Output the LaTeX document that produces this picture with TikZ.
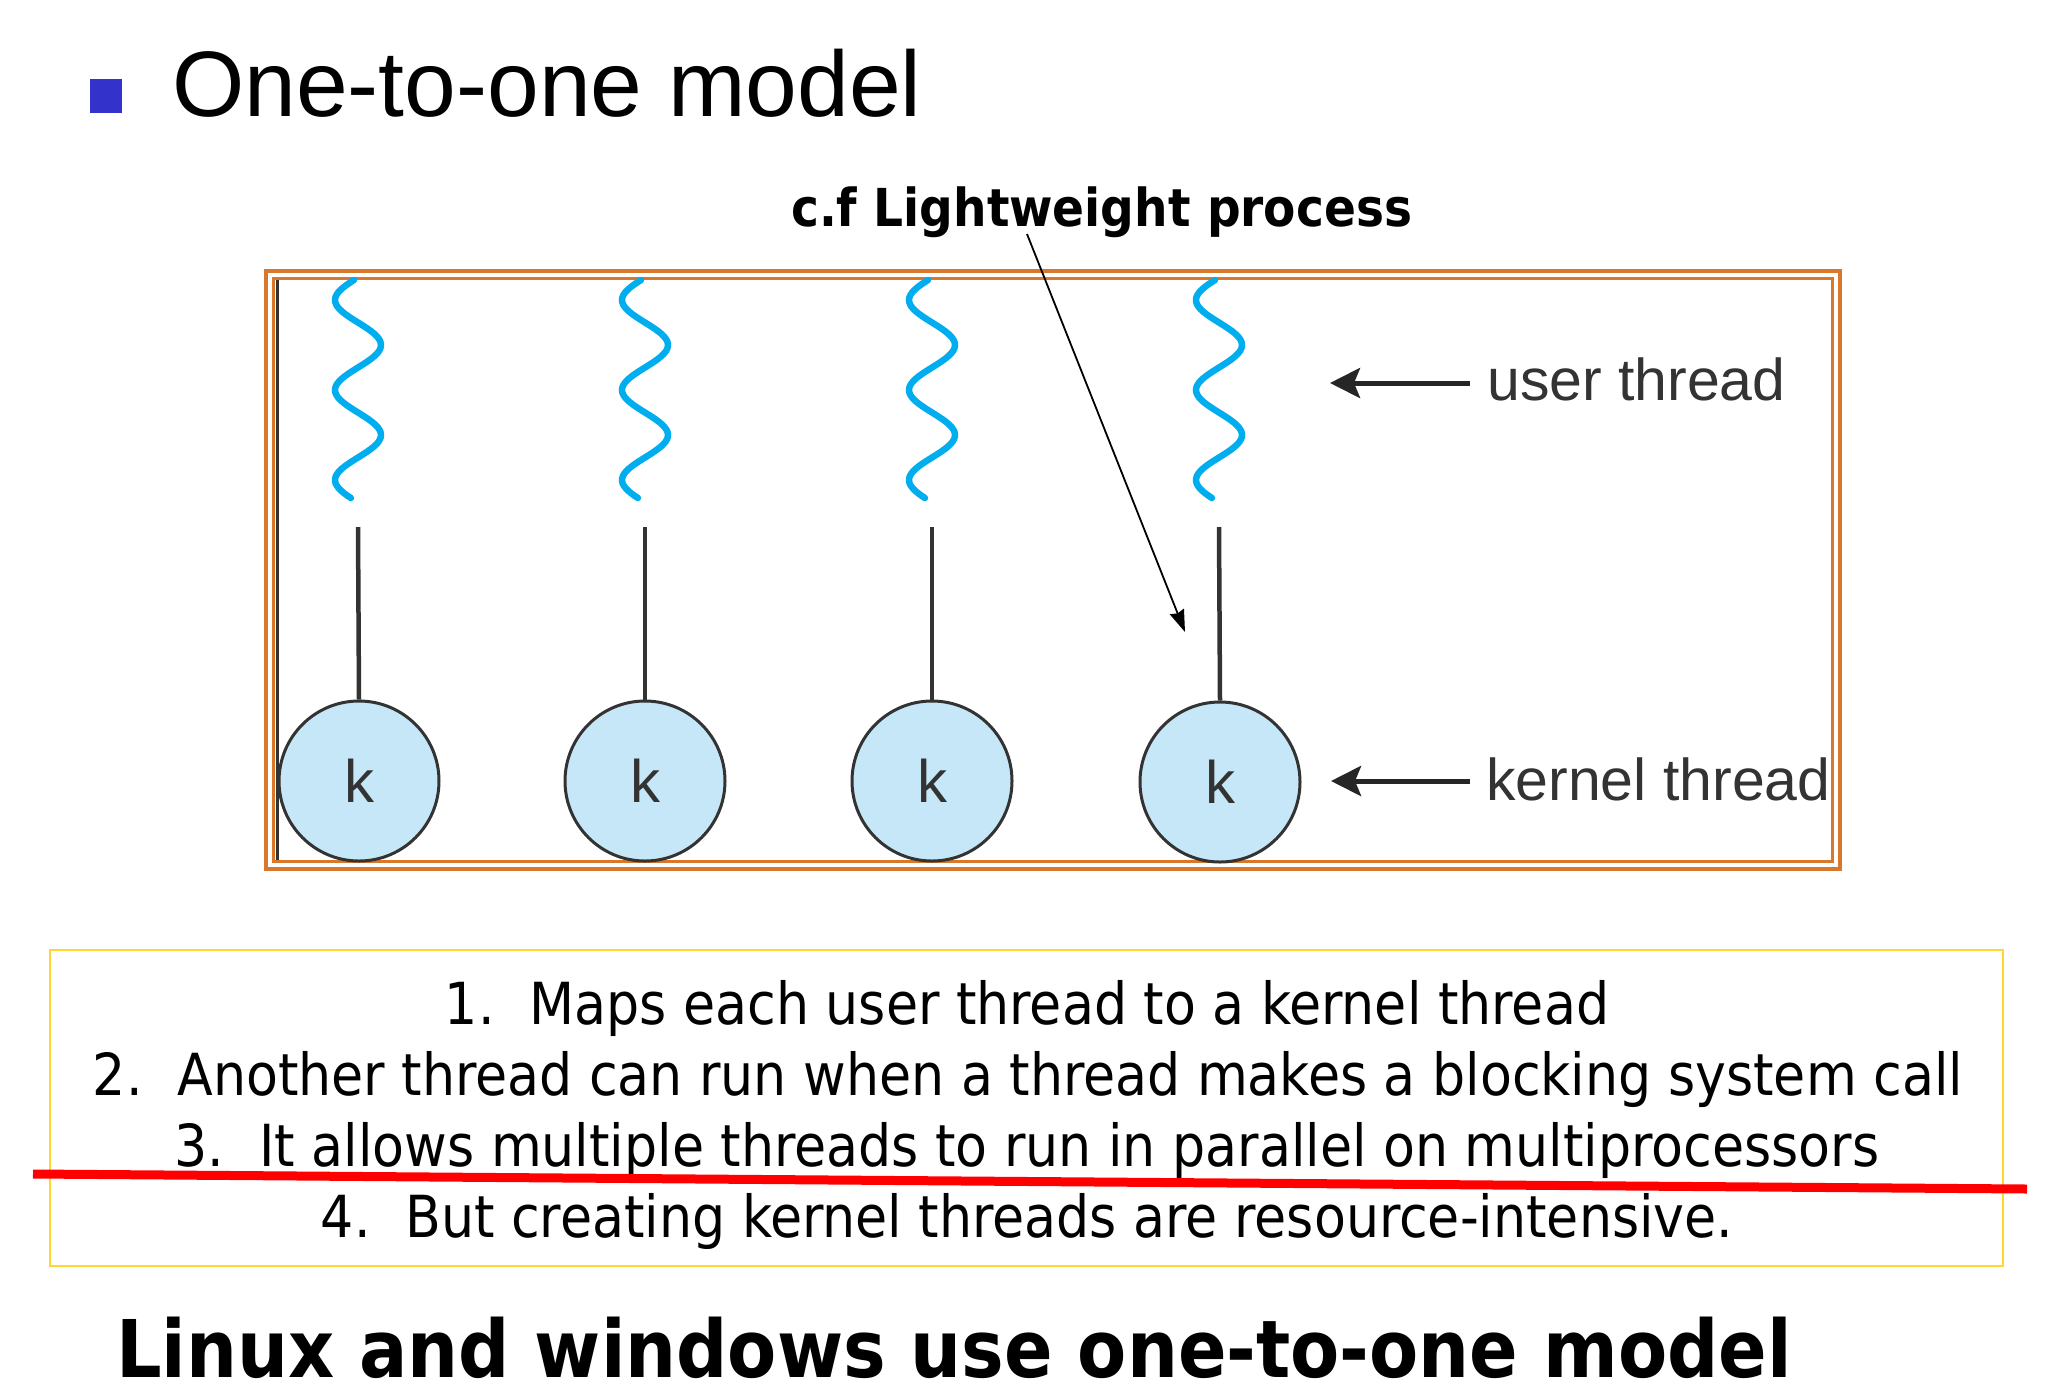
\documentclass[tikz,border=0pt]{standalone}
\usepackage{fontspec}
\setmainfont{Liberation Sans}
\newfontfamily\tahoma{DejaVu Sans Condensed}[BoldFont={DejaVu Sans Condensed Bold}]
\usetikzlibrary{arrows.meta}
\definecolor{bulletblue}{HTML}{3333CC}
\definecolor{boxorange}{HTML}{D9782A}
\definecolor{wavecyan}{HTML}{00AEEF}
\definecolor{kfill}{HTML}{C6E7F8}
\definecolor{kdraw}{HTML}{333333}
\definecolor{boxyellow}{HTML}{FFD633}
\definecolor{marker}{HTML}{FF0000}
\tikzset{
  wave/.style={draw=wavecyan, line width=6.5pt, line cap=round},
  knode/.style={circle, draw=kdraw, line width=3pt, fill=kfill, minimum size=160pt, inner sep=0pt,
     font=\fontsize{60}{60}\selectfont, text=kdraw},
  stem/.style={draw=kdraw, line width=4.5pt},
  lbl/.style={anchor=base west, inner sep=0pt, font=\fontsize{59}{59}\selectfont, text=kdraw},
  bigarrow/.style={draw=black!85, line width=5pt, -{Stealth[length=30pt,width=30pt,inset=6pt]}},
  thinarrow/.style={draw=black, line width=1.8pt, -{Stealth[length=22pt,width=15pt,inset=2pt]}},
  listline/.style={anchor=base, inner sep=0pt, font=\tahoma\fontsize{58}{58}\selectfont},
}
\begin{document}
\begin{tikzpicture}[x=1pt,y=-1pt]
\useasboundingbox[fill=white] (0,0) rectangle (2064,1390);
% title
\node[fill=bulletblue, minimum width=32pt, minimum height=34pt, inner sep=0pt] (bullet) at (106,96) {};
\node[anchor=base west, inner sep=0pt, font=\fontsize{93}{93}\selectfont] (title) at (172,116) {One-to-one model};
% orange frame
\draw[boxorange, line width=4pt] (266,271) rectangle (1840,869);
\draw[boxorange, line width=3pt] (273.5,278.5) rectangle (1832.5,861.5);
\draw[kdraw, line width=3pt] (277.5,280) -- (277.5,860);
% waves
\foreach \c/\i in {358/1,645/2,932/3,1219/4}{
  \draw[wave] plot[domain=280:498, samples=90, smooth] ({\c-23*cos(4*(\x-300))},{\x});
  \coordinate (t\i) at (\c,527);
}
% kernel threads
\node[knode] (k1) at (359,781) {k};
\node[knode] (k2) at (645,781) {k};
\node[knode] (k3) at (932,781) {k};
\node[knode] (k4) at (1220,782) {k};
\foreach \i in {1,2,3,4}{ \draw[stem] (t\i) -- (k\i.north); }
% labels
\node[lbl] (ulab) at (1487,400) {user thread};
\node[lbl] (klab) at (1486,800) {kernel thread};
\coordinate (ua) at (1470,383);
\coordinate (ub) at (1330,383);
\coordinate (ka) at (1470,781);
\coordinate (kb) at (1331,781);
\draw[bigarrow] (ua) -- (ub);
\draw[bigarrow] (ka) -- (kb);
% lightweight process
\node[anchor=base west, inner sep=0pt, font=\tahoma\bfseries\fontsize{52.3}{52.3}\selectfont] (lwp) at (791,226) {c.f Lightweight process};
\coordinate (la) at (1027,234);
\coordinate (lb) at (1185,632);
\draw[thinarrow] (la) -- (lb);
% list box
\draw[boxyellow, line width=2.5pt] (50,950) rectangle (2003,1266);
\node[listline] (l1) at (1027,1024) {1.\hspace{0.6em}Maps each user thread to a kernel thread};
\node[listline] (l2) at (1028,1095) {2.\hspace{0.6em}Another thread can run when a thread makes a blocking system call};
\node[listline] (l3) at (1027,1166) {3.\hspace{0.6em}It allows multiple threads to run in parallel on multiprocessors};
\node[listline] (l4) at (1027,1237) {4.\hspace{0.6em}But creating kernel threads are resource-intensive.};
\coordinate (ra) at (33,1174);
\coordinate (rb) at (2027,1189);
\draw[marker, line width=9pt] (ra) -- (rb);
% bottom
\node[anchor=base west, inner sep=0pt, font=\tahoma\bfseries\fontsize{79.6}{79.6}\selectfont] (bottom) at (116,1377) {Linux and windows use one-to-one model};
\end{tikzpicture}
\end{document}
